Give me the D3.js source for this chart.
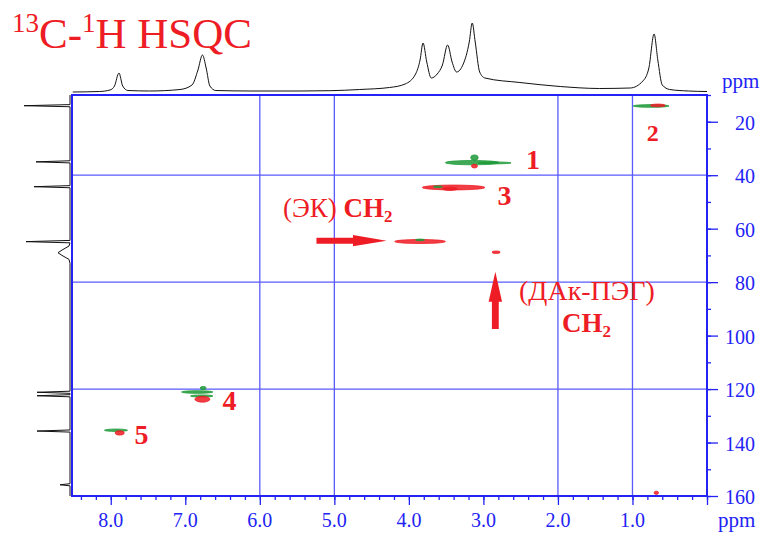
<!DOCTYPE html>
<html>
<head>
<meta charset="utf-8">
<script src="https://cdn.jsdelivr.net/npm/d3@7"></script>
<style>
  body { margin: 0; background: #fff; }
  svg { display: block; font-family: "Liberation Serif", "Times New Roman", serif; }
</style>
</head>
<body>
<svg id="hsqc" width="763" height="533"></svg>
<script>
// 1H projection (top): chemical shift, ppm / intensity
const topPpm = [8.51, 8.15, 8.01, 7.95, 7.89, 7.84, 7.77, 7.48, 7.07, 6.91, 6.83, 6.77, 6.72, 6.67, 6.59,
    6.13, 5.46, 5.06, 4.66, 4.26, 4.05, 3.91, 3.85, 3.81, 3.76, 3.70, 3.62, 3.55, 3.48, 3.42, 3.36,
    3.27, 3.19, 3.15, 3.11, 3.05, 2.98, 2.51, 1.97, 1.44, 1.03, 0.86, 0.78, 0.71, 0.66, 0.60, 0.50, 0.25, 0.0];
const topInt = [0, 0.5, 2, 6, 19, 6, 1.5, 1, 2.5, 7, 22, 37, 24, 6, 1.5,
    1, 1, 1.3, 2.5, 4.5, 8, 18, 32, 49, 30, 14, 18, 27, 47, 30, 20,
    28, 50, 69, 50, 20, 14, 9.5, 5.5, 3.5, 4, 11, 24, 58, 32, 7, 2.5, 1, 0.5];

// 13C projection (left): chemical shift, ppm / intensity
const leftPpm = [10, 13.6, 14.0, 14.4, 34.6, 35.0, 35.4, 43.9, 44.3, 44.7, 64.4, 64.85, 65.3,
    66.5, 68.0, 69.0, 70.0, 71.5, 73, 120.8, 121.2, 121.6, 122.1, 122.5, 122.9,
    135.3, 135.7, 136.1, 155.4, 155.8, 156.2, 160];
const leftInt = [0, 0, 46, 0, 0, 34, 0, 0, 36, 0, 0, 44, 0,
    1, 8, 12, 8, 1, 0, 0, 33, 0, 0, 33, 0,
    0, 33, 0, 0, 10, 0, 0];

// cross peaks (contour pieces): 1H ppm, 13C ppm, half width H, half width C, phase
const crossH  = [3.15, 2.85, 3.12, 3.12, 3.40, 3.45, 3.61, 3.85, 3.85, 2.83, 0.75, 0.66,
    6.84, 6.78, 6.77, 6.76, 7.93, 7.88, 0.68];
const crossC  = [35.3, 35.4, 33.4, 36.6, 44.6, 45.1, 44.3, 64.8, 64.2, 68.8, 14.1, 13.9,
    121.1, 122.6, 123.8, 119.6, 135.4, 136.4, 158.8];
const crossWH = [0.36, 0.22, 0.05, 0.04, 0.42, 0.10, 0.06, 0.34, 0.06, 0.055, 0.24, 0.10,
    0.21, 0.15, 0.10, 0.04, 0.155, 0.06, 0.03];
const crossWC = [0.8, 0.35, 1.0, 0.7, 0.9, 0.6, 0.3, 0.75, 0.3, 0.45, 0.5, 0.5,
    0.5, 0.4, 1.1, 0.6, 0.45, 0.8, 0.6];
const crossPh = [1, 1, 1, -1, -1, -1, 1, -1, 1, -1, 1, -1,
    1, 1, -1, 1, 1, -1, -1];

// peak numbers
const labelText = ["1", "2", "3", "4", "5"];
const labelH = [2.43, 0.81, 2.81, 6.50, 7.68];
const labelC = [34.4, 23.8, 47.8, 124.5, 137.2];

const xTicks = [8, 7, 6, 5, 4, 3, 2, 1];
const yTicks = [20, 40, 60, 80, 100, 120, 140, 160];
const xGrid = [6, 5, 2, 1];
const yGrid = [40, 80, 120];

const blue = "#2323f5", grid = "#5a5aff", red = "#ee1c25", green = "#1e9a3a";

const svg = d3.select("#hsqc");
const x = d3.scaleLinear().domain([8.52, 0]).range([72, 707]);
const y = d3.scaleLinear().domain([10, 160]).range([95, 496]);
const yTop = d3.scaleLinear().domain([0, 70]).range([92, 22]);
const xLeft = d3.scaleLinear().domain([0, 46]).range([70, 24]);

// grid
svg.append("g").selectAll("line").data(xGrid).join("line")
    .attr("x1", d => x(d)).attr("x2", d => x(d)).attr("y1", 95).attr("y2", 496)
    .attr("stroke", grid).attr("stroke-width", 1.3);
svg.append("g").selectAll("line").data(yGrid).join("line")
    .attr("x1", 72).attr("x2", 707).attr("y1", d => y(d)).attr("y2", d => y(d))
    .attr("stroke", grid).attr("stroke-width", 1.3);

// x axis (bottom)
const xAxis = svg.append("g").attr("transform", "translate(0,496)");
xAxis.call(d3.axisBottom(x).tickValues(d3.range(0, 85, 2).map(d => d / 10)).tickSize(4).tickFormat(""));
xAxis.call(g => g.append("g").call(d3.axisBottom(x).tickValues(d3.range(0, 9)).tickSize(9).tickFormat("")));
xAxis.selectAll("path").remove();
xAxis.selectAll("line").attr("stroke", blue).attr("stroke-width", 1.3);
svg.append("g").selectAll("text").data(xTicks).join("text")
    .attr("x", d => x(d)).attr("y", 527).attr("text-anchor", "middle")
    .attr("font-size", 20).attr("fill", blue).text(d => d.toFixed(1));

// y axis (right)
const yAxis = svg.append("g").attr("transform", "translate(707,0)");
yAxis.call(d3.axisRight(y).tickValues(d3.range(10, 161, 10)).tickSize(4).tickFormat(""));
yAxis.call(g => g.append("g").call(d3.axisRight(y).tickValues(yTicks).tickSize(11).tickFormat("")));
yAxis.selectAll("path").remove();
yAxis.selectAll("line").attr("stroke", blue).attr("stroke-width", 1.3);
svg.append("g").selectAll("text").data(yTicks).join("text")
    .attr("x", 755).attr("y", d => y(d) + 8).attr("text-anchor", "end")
    .attr("font-size", 20).attr("fill", blue).text(d => d);

// frame
svg.append("rect").attr("x", 72).attr("y", 95).attr("width", 635).attr("height", 401)
    .attr("fill", "none").attr("stroke", blue).attr("stroke-width", 2);

svg.append("text").attr("x", 722).attr("y", 88).attr("font-size", 21).attr("fill", blue).text("ppm");
svg.append("text").attr("x", 718).attr("y", 527).attr("font-size", 21).attr("fill", blue).text("ppm");

// projections
svg.append("path")
    .datum(d3.zip(topPpm, topInt))
    .attr("fill", "none").attr("stroke", "#111").attr("stroke-width", 1)
    .attr("d", d3.line().x(d => x(d[0])).y(d => yTop(d[1])).curve(d3.curveMonotoneX));
svg.append("path")
    .datum(d3.zip(leftPpm, leftInt))
    .attr("fill", "none").attr("stroke", "#111").attr("stroke-width", 1)
    .attr("d", d3.line().x(d => xLeft(d[1])).y(d => y(d[0])));

// cross peaks
const pxPerH = Math.abs(x(1) - x(0)), pxPerC = Math.abs(y(11) - y(10));
svg.append("g").selectAll("ellipse").data(d3.range(crossH.length)).join("ellipse")
    .attr("cx", i => x(crossH[i])).attr("cy", i => y(crossC[i]))
    .attr("rx", i => crossWH[i] * pxPerH).attr("ry", i => crossWC[i] * pxPerC)
    .attr("fill", i => crossPh[i] > 0 ? green : red).attr("fill-opacity", 0.85)
    .attr("stroke", i => crossPh[i] > 0 ? green : red).attr("stroke-width", 0.8);

// peak numbers
svg.append("g").selectAll("text").data(d3.range(labelText.length)).join("text")
    .attr("x", i => x(labelH[i])).attr("y", i => y(labelC[i]) + 9)
    .attr("font-size", i => i === 1 ? 24 : 28).attr("font-weight", "bold").attr("fill", red)
    .text(i => labelText[i]);

// arrows
const arrowH = [[5.24, 63.4], [4.75, 63.4], [4.75, 62.4], [4.30, 64.5], [4.75, 66.6], [4.75, 65.6], [5.24, 65.6]];
svg.append("path").attr("fill", red)
    .attr("d", "M" + arrowH.map(p => [x(p[0]), y(p[1])]).join("L") + "Z");
const arrowV = [[2.886, 97.5], [2.886, 87.3], [2.93, 87.3], [2.84, 76.1], [2.75, 87.3], [2.794, 87.3], [2.794, 97.5]];
svg.append("path").attr("fill", red)
    .attr("d", "M" + arrowV.map(p => [x(p[0]), y(p[1])]).join("L") + "Z");

// annotations
const t1 = svg.append("text").attr("x", 283).attr("y", 217).attr("font-size", 27).attr("fill", red);
t1.append("tspan").text("(ЭК) ");
t1.append("tspan").attr("font-weight", "bold").text("CH");
t1.append("tspan").attr("font-weight", "bold").attr("font-size", 17).attr("dy", 5).text("2");

svg.append("text").attr("x", 519).attr("y", 300).attr("font-size", 28).attr("fill", red).text("(ДАк-ПЭГ)");
const t2 = svg.append("text").attr("x", 562).attr("y", 332).attr("font-size", 27)
    .attr("font-weight", "bold").attr("fill", red);
t2.append("tspan").text("CH");
t2.append("tspan").attr("font-size", 17).attr("dy", 5).text("2");

// title
const title = svg.append("text").attr("x", 12).attr("y", 48).attr("font-size", 43).attr("fill", red);
title.append("tspan").attr("font-size", 27).attr("dy", -16).text("13");
title.append("tspan").attr("dy", 16).text("C-");
title.append("tspan").attr("font-size", 27).attr("dy", -16).text("1");
title.append("tspan").attr("dy", 16).text("H HSQC");
</script>
</body>
</html>
